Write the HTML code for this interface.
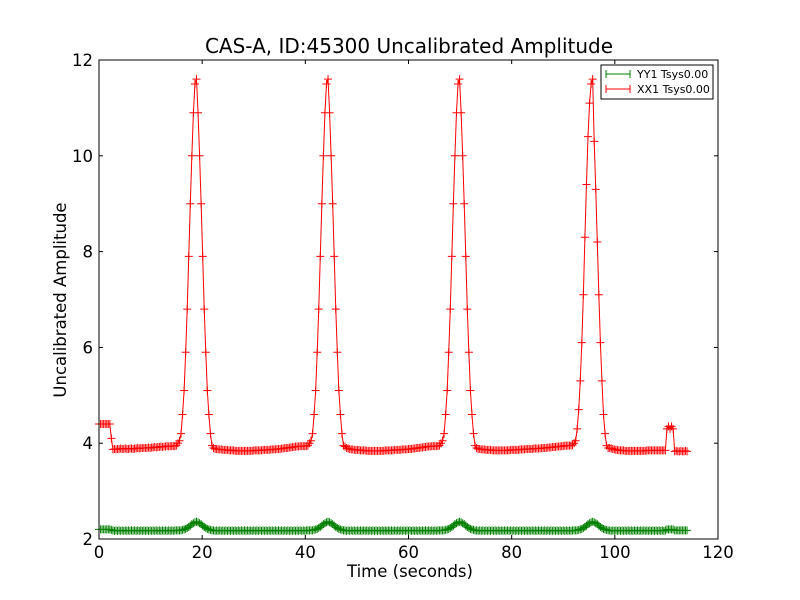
<!DOCTYPE html>
<html><head><meta charset="utf-8"><style>
body{margin:0;background:#fff;}
svg{display:block;font-family:"DejaVu Sans","Liberation Sans",sans-serif;}
</style></head><body>
<svg id="chart" width="800" height="600" xmlns="http://www.w3.org/2000/svg">
<rect width="800" height="600" fill="#fff"/>
<text x="409" y="53" text-anchor="middle" font-size="20">CAS-A, ID:45300 Uncalibrated Amplitude</text>
<text x="410" y="577" text-anchor="middle" font-size="16.5">Time (seconds)</text>
<text x="66" y="300" text-anchor="middle" font-size="16.5" transform="rotate(-90 66 300)">Uncalibrated Amplitude</text>
<g id="series"></g>
<g id="axes"></g>
<g>
<rect x="601" y="65" width="112" height="34" fill="#fff" stroke="#000" stroke-width="1"/>
<g>
<line x1="606" y1="74" x2="630" y2="74" stroke="green"/><line x1="606" y1="70" x2="606" y2="78" stroke="green"/><line x1="630" y1="70" x2="630" y2="78" stroke="green"/>
<text x="637" y="78" font-size="11">YY1 Tsys0.00</text></g>
<g>
<line x1="606" y1="89" x2="630" y2="89" stroke="red"/><line x1="606" y1="85" x2="606" y2="93" stroke="red"/><line x1="630" y1="85" x2="630" y2="93" stroke="red"/>
<text x="637" y="93" font-size="11">XX1 Tsys0.00</text></g>
</g>
</svg>
<script>
const timeStep = 0.3;
const xTicks = [0,20,40,60,80,100,120];
const yTicks = [2,4,6,8,10,12];
const xxStart = [4.4,4.4,4.4,4.4,4.4,4.4,4.4,4.4,4.1,
3.87,3.88,3.87,3.88,3.88,3.89,3.88,3.88,3.89,3.88,
3.88,3.89,3.89,3.88,3.89,3.89,3.9,3.89,3.9,3.9,
3.9,3.9,3.9,3.91,3.9,3.91,3.91,3.92,3.91,3.92,
3.92,3.93,3.92,3.93,3.93,3.94,3.93,3.94,3.94,3.94,3.94,
3.95,4.0,4.05];
const xxPeak1 = [4.2,4.6,5.1,5.9,6.8,7.9,9.0,10.0,10.9,11.5,11.6,10.9,10.0,9.0,7.9,6.8,5.9,5.1,4.6,4.2,3.95];
const xxGap1 = [3.9,3.88,3.88,3.87,3.87,3.87,3.86,3.86,3.86,3.86,3.85,3.85,3.85,3.85,3.84,3.84,3.84,3.84,3.84,3.84,
3.84,3.84,3.84,3.84,3.84,3.84,3.85,3.85,3.85,3.85,3.85,3.85,3.86,3.86,3.86,3.86,3.86,3.87,3.87,3.87,
3.87,3.88,3.88,3.88,3.89,3.89,3.9,3.9,3.9,3.91,3.91,3.92,3.92,3.93,3.93,3.93,3.94,3.94,3.94,3.94,3.94,
3.95,4.0,4.05];
const xxPeak2 = [4.2,4.6,5.1,5.9,6.8,7.9,9.0,10.0,10.9,11.5,11.6,10.9,10.0,9.0,7.9,6.8,5.9,5.1,4.6,4.2,3.95];
const xxGap2 = [3.93,3.9,3.89,3.88,3.87,3.87,3.86,3.86,3.86,3.86,3.85,3.85,3.85,3.85,3.84,3.84,3.84,3.84,3.84,3.84,
3.84,3.84,3.84,3.84,3.84,3.84,3.85,3.85,3.85,3.85,3.85,3.85,3.86,3.86,3.86,3.86,3.86,3.87,3.87,3.87,
3.87,3.88,3.88,3.88,3.89,3.89,3.9,3.9,3.9,3.91,3.91,3.92,3.92,3.93,3.93,3.93,3.94,3.94,3.94,3.94,3.94,
3.95,4.0,4.05];
const xxPeak3 = [4.2,4.6,5.1,5.9,6.8,7.9,9.0,10.0,10.9,11.5,11.6,10.9,10.0,9.0,7.9,6.8,5.9,5.1,4.6,4.2,3.95];
const xxGap3 = [3.9,3.88,3.88,3.87,3.87,3.87,3.86,3.86,3.86,3.86,3.85,3.85,3.85,3.85,3.85,3.85,3.85,3.85,3.85,3.85,
3.85,3.85,3.86,3.86,3.86,3.86,3.86,3.86,3.87,3.87,3.87,3.87,3.88,3.88,3.88,3.88,3.88,3.89,3.89,3.89,
3.89,3.89,3.9,3.9,3.9,3.9,3.91,3.91,3.91,3.92,3.92,3.92,3.93,3.93,3.93,3.94,3.94,3.95,3.95,3.95,3.95,3.95,
3.96,4.0,4.05];
const xxPeak4 = [4.3,4.7,5.3,6.1,7.1,8.3,9.4,10.4,11.1,11.5,11.6,10.3,9.3,8.2,7.1,6.1,5.3,4.6,4.2,3.95,3.9];
const xxEnd = [3.9,3.89,3.88,3.87,3.86,3.86,3.85,3.85,3.85,3.85,3.84,3.84,3.84,3.84,3.84,3.84,3.84,3.84,3.84,3.84,
3.84,3.84,3.84,3.84,3.85,3.85,3.85,3.85,3.85,3.85,3.85,3.85,3.85,3.85,3.85,3.85,3.85,
4.3,4.35,4.3,4.35,4.3,
3.83,3.84,3.83,3.83,3.84,3.83,3.83,3.84,3.83];
const yyStart = [2.2,2.2,2.2,2.2,2.2,2.2,2.2,2.2,2.19,
2.18,2.17,2.18,2.17,2.18,2.17,2.18,2.17,2.18,2.17,2.18,2.17,2.18,2.17,2.18,2.17,2.18,2.17,2.18,2.17,
2.18,2.17,2.18,2.17,2.18,2.17,2.18,2.17,2.18,2.17,2.18,2.17,2.18,2.17,2.18,2.17,2.18,2.17,2.18,2.17,2.18,
2.18,2.18,2.18];
const yyBump = [2.18,2.19,2.2,2.21,2.23,2.25,2.28,2.31,2.33,2.35,2.36,2.35,2.33,2.31,2.28,2.25,2.23,2.21,2.2,2.19,2.18];
const yyGap = [2.18,2.17,2.18,2.17,2.18,2.17,2.18,2.17,2.18,2.17,2.18,2.17,2.18,2.17,2.18,2.17,2.18,2.17,2.18,2.17,
2.18,2.17,2.18,2.17,2.18,2.17,2.18,2.17,2.18,2.17,2.18,2.17,2.18,2.17,2.18,2.17,2.18,2.17,2.18,2.17,
2.18,2.17,2.18,2.17,2.18,2.17,2.18,2.17,2.18,2.17,2.18,2.17,2.18,2.17,2.18,2.17,2.18,2.17,2.18,2.17,2.18,
2.18,2.18,2.18];
const yyGapB = [2.18,2.17,2.18,2.17,2.18,2.17,2.18,2.17,2.18,2.17,2.18,2.17,2.18,2.17,2.18,2.17,2.18,2.17,2.18,2.17,
2.18,2.17,2.18,2.17,2.18,2.17,2.18,2.17,2.18,2.17,2.18,2.17,2.18,2.17,2.18,2.17,2.18,2.17,2.18,2.17,
2.18,2.17,2.18,2.17,2.18,2.17,2.18,2.17,2.18,2.17,2.18,2.17,2.18,2.17,2.18,2.17,2.18,2.17,2.18,2.17,2.18,2.17,
2.18,2.18,2.18];
const yyEnd = [2.18,2.17,2.18,2.17,2.18,2.17,2.18,2.17,2.18,2.17,2.18,2.17,2.18,2.17,2.18,2.17,2.18,2.17,2.18,2.17,
2.18,2.17,2.18,2.17,2.18,2.17,2.18,2.17,2.18,2.17,2.18,2.17,2.18,2.17,2.18,2.17,2.18,
2.2,2.2,2.2,2.2,2.2,
2.18,2.18,2.18,2.18,2.18,2.18,2.18,2.18,2.18];
const xxValues = [].concat(xxStart,xxPeak1,xxGap1,xxPeak2,xxGap2,xxPeak3,xxGap3,xxPeak4,xxEnd);
const yyValues = [].concat(yyStart,yyBump,yyGap,yyBump,yyGap,yyBump,yyGapB,yyBump,yyEnd);

const L=99,R=718,T=60,B=539;
const xMin=0,xMax=120,yMin=2,yMax=12;
function xs(v){return L+(v-xMin)/(xMax-xMin)*(R-L);}
function ys(v){return B-(v-yMin)/(yMax-yMin)*(B-T);}
const NS='http://www.w3.org/2000/svg';
function mk(tag,attrs,parent){const e=document.createElementNS(NS,tag);for(const k in attrs)e.setAttribute(k,attrs[k]);parent.appendChild(e);return e;}
const series=document.getElementById('series');
function drawSeries(vals,color,name){
  const g=mk('g',{},series);
  
  
  const pts=vals.map((v,i)=>xs(i*timeStep).toFixed(2)+','+ys(v).toFixed(2)).join(' ');
  const pl=mk('polyline',{points:pts,fill:'none',stroke:color,'stroke-width':1},g);
  
  
  let d='';
  vals.forEach((v,i)=>{const x=xs(i*timeStep),y=ys(v);d+=`M${x-4},${y}h8M${x},${y-4}v8`;});
  const m=mk('path',{d:d,stroke:color,'stroke-width':1,fill:'none'},g);
  
  
}
drawSeries(yyValues,'green','series-yy1');
drawSeries(xxValues,'red','series-xx1');
const axes=document.getElementById('axes');
const frame=mk('rect',{x:L,y:T,width:R-L,height:B-T,fill:'none',stroke:'#000','stroke-width':1},axes);


xTicks.forEach(t=>{
  const x=xs(t);
  mk('line',{x1:x,y1:B,x2:x,y2:B-4,stroke:'#000'},axes);
  mk('line',{x1:x,y1:T,x2:x,y2:T+4,stroke:'#000'},axes);
  const tx=mk('text',{x:x,y:B+19,'text-anchor':'middle','font-size':16.5},axes);
  tx.textContent=t;
  
  
});
yTicks.forEach(t=>{
  const y=ys(t);
  mk('line',{x1:L,y1:y,x2:L+4,y2:y,stroke:'#000'},axes);
  mk('line',{x1:R,y1:y,x2:R-4,y2:y,stroke:'#000'},axes);
  const tx=mk('text',{x:L-6,y:y+6,'text-anchor':'end','font-size':16.5},axes);
  tx.textContent=t;
  
  
});
</script>
</body></html>
